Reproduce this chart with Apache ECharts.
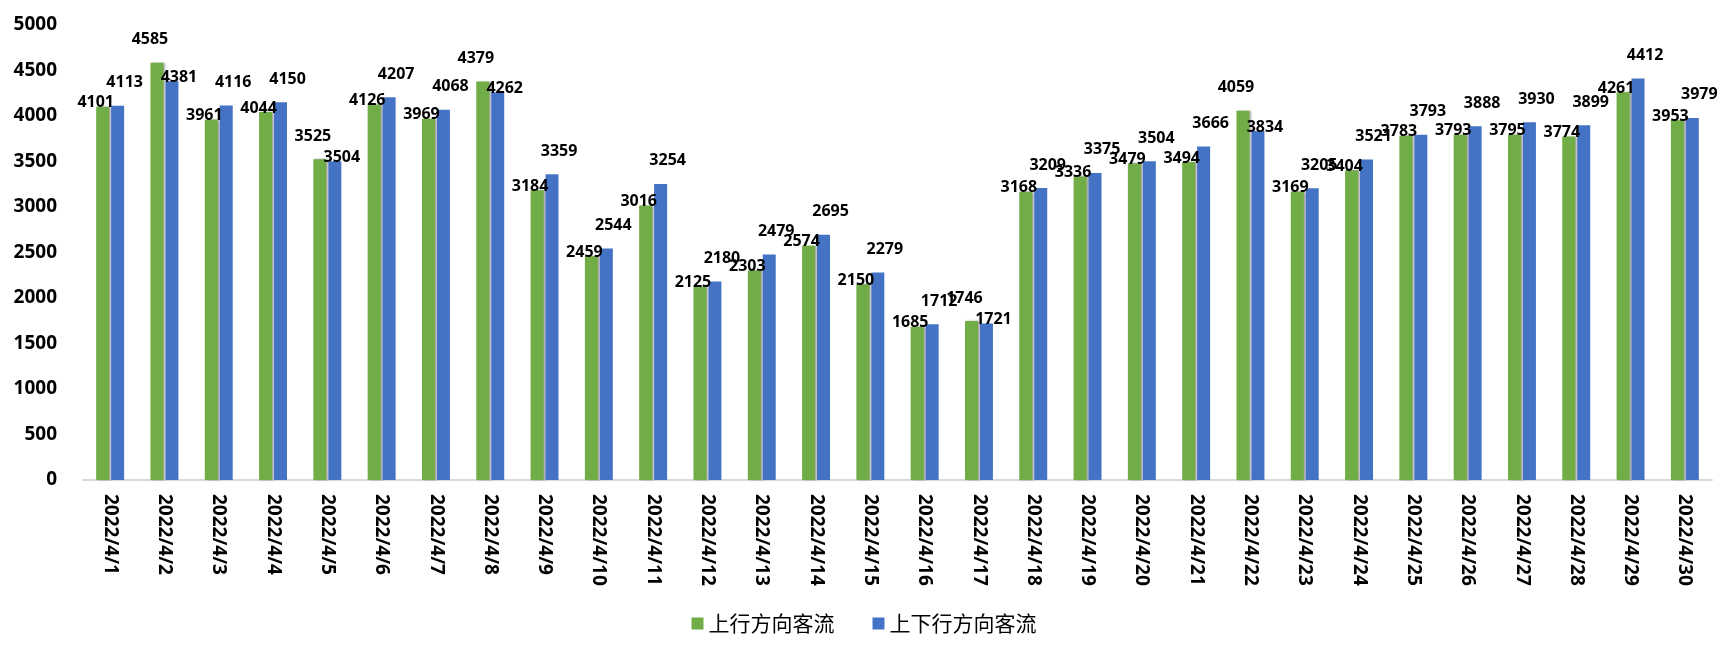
<!DOCTYPE html>
<html style="height: 100%">
<head>
<meta charset="utf-8">
<script src="https://cdn.jsdelivr.net/npm/echarts@6/dist/echarts.min.js"></script>
</head>
<body style="height: 100%; margin: 0; background: #fff">
<div id="container" style="width: 1728px; height: 657px"></div>
<script type="text/javascript">
// data
var days = [];
for (var d = 1; d <= 30; d++) days.push('2022/4/' + d);
var upFlow = [4101,4585,3961,4044,3525,4126,3969,4379,3184,2459,3016,2125,2303,2574,2150,1685,1746,3168,3336,3479,3494,4059,3169,3404,3783,3793,3795,3774,4261,3953];
var allFlow = [4113,4381,4116,4150,3504,4207,4068,4262,3359,2544,3254,2180,2479,2695,2279,1712,1721,3209,3375,3504,3666,3834,3205,3521,3793,3888,3930,3899,4412,3979];
var names = ['上行方向客流', '上下行方向客流'];

var font = '"Open Sans", "Noto Sans CJK SC", sans-serif';
var myChart = echarts.init(document.getElementById('container'));

// 较高柱子的标签放在上面，较低的压在柱顶
function labelShift(isUp) {
	return function (p) {
		var i = p.dataIndex;
		var higher = isUp ? upFlow[i] >= allFlow[i] : allFlow[i] > upFlow[i];
		return { dx: isUp ? -7 : 7, dy: higher ? -10 : 9 };
	};
}

var option = {
	animation: false,
	textStyle: { fontFamily: font },
	grid: { left: 83, right: 16, top: 25, bottom: 177 },
	legend: {
		data: names,
		bottom: 18,
		left: 'center',
		itemWidth: 12,
		itemHeight: 12,
		itemGap: 38,
		icon: 'rect',
		textStyle: { fontSize: 21, color: '#000', fontFamily: '"Noto Sans CJK SC", sans-serif' }
	},
	xAxis: {
		type: 'category',
		data: days,
		axisLine: { lineStyle: { color: '#d9d9d9', width: 2 } },
		axisTick: { show: false },
		axisLabel: { rotate: -90, fontSize: 19, fontWeight: 'bold', color: '#000', margin: 14, interval: 0 }
	},
	yAxis: {
		type: 'value',
		min: 0, max: 5000, interval: 500,
		splitLine: { show: false },
		axisLine: { show: false },
		axisLabel: { fontSize: 19, fontWeight: 'bold', color: '#000', margin: 26, formatter: function (v) { return String(v); } }
	},
	series: [
	{
		name: names[0],
		type: 'bar',
		data: upFlow,
		barWidth: 13,
		barGap: '15%',
		itemStyle: { color: '#70ad47', shadowColor: 'rgba(0,0,0,0.35)', shadowOffsetX: 2, shadowBlur: 2 },
		label: { show: true, position: 'top', fontSize: 16, fontWeight: 'bold', color: '#000' },
		labelLayout: labelShift(true)
	},
	{
		name: names[1],
		type: 'bar',
		data: allFlow,
		barWidth: 13,
		itemStyle: { color: '#4472c4' },
		label: { show: true, position: 'top', fontSize: 16, fontWeight: 'bold', color: '#000' },
		labelLayout: labelShift(false)
	}
	]
};
myChart.setOption(option, true);
</script>
</body>
</html>
